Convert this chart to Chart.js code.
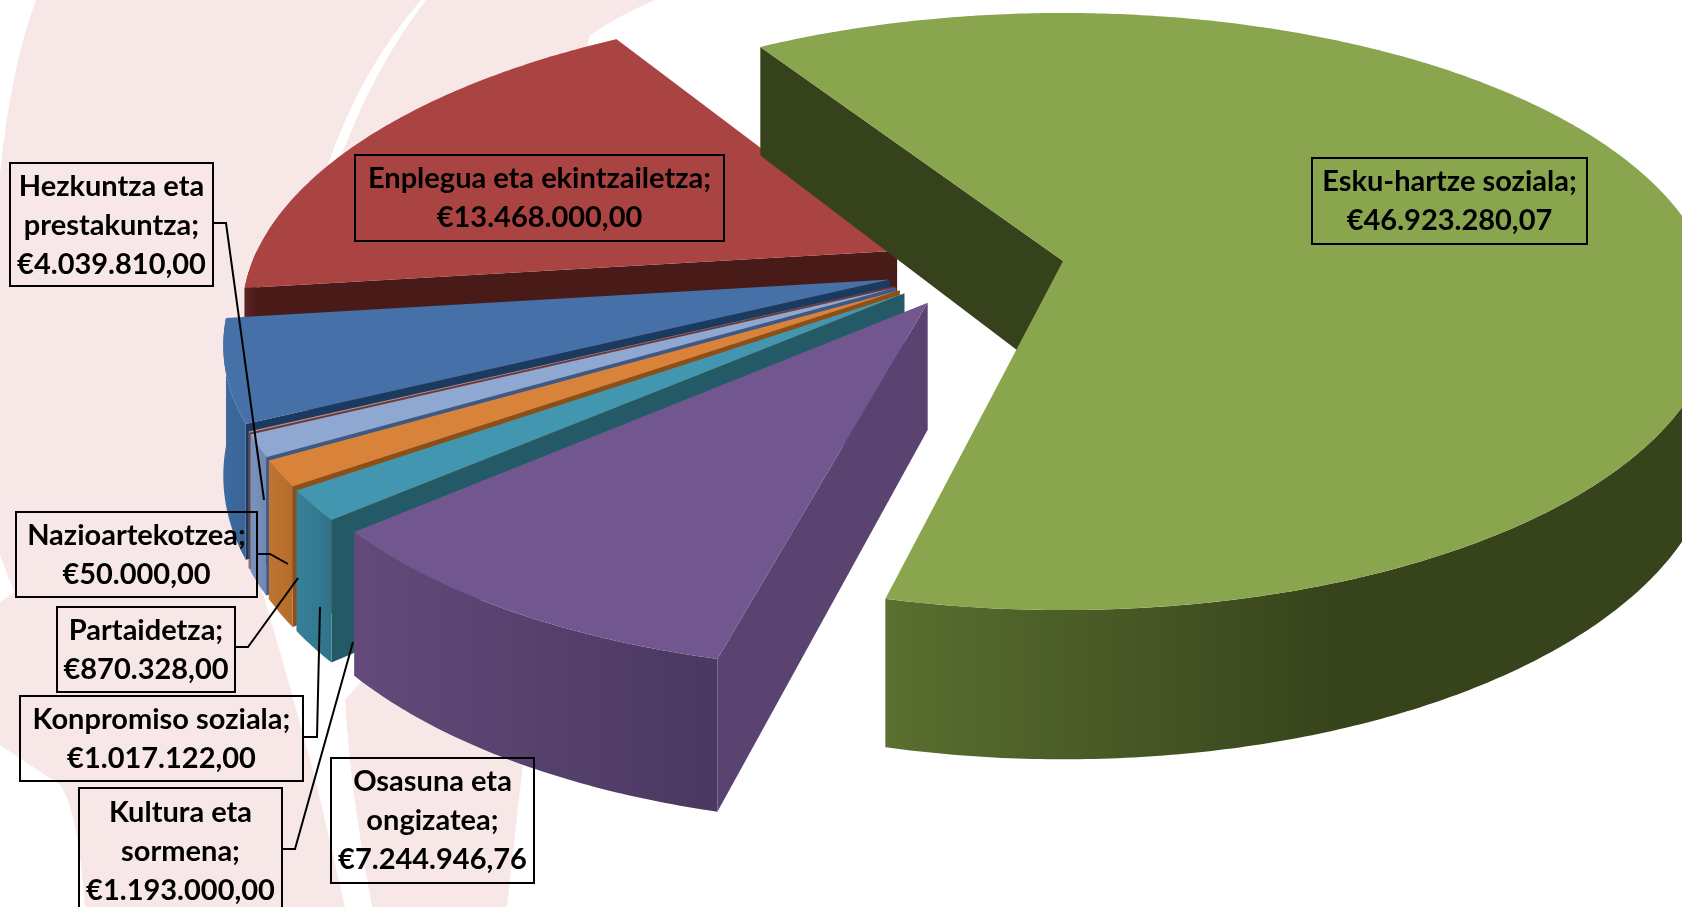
<!DOCTYPE html>
<html>
<head>
<meta charset="utf-8">
<style>
    html, body { margin: 0; padding: 0; background: #fff; overflow: hidden; }
    canvas { display: block; }
</style>
</head>
<body>
<canvas id="myChart" width="1682" height="907"></canvas>
<script src="https://cdn.jsdelivr.net/npm/chart.js@4.4.1/dist/chart.umd.min.js"></script>
<script>
    // data, in the order the slices go round the pie
    const categories = ['Hezkuntza eta prestakuntza', 'Enplegua eta ekintzailetza', 'Esku-hartze soziala',
        'Osasuna eta ongizatea', 'Kultura eta sormena', 'Konpromiso soziala', 'Partaidetza', 'Nazioartekotzea']
    const amounts = [4039810.00, 13468000.00, 46923280.07, 7244946.76, 1193000.00, 1017122.00, 870328.00, 50000.00]
    const labelLines = [['Hezkuntza eta', 'prestakuntza;'], ['Enplegua eta ekintzailetza;'], ['Esku-hartze soziala;'],
        ['Osasuna eta', 'ongizatea;'], ['Kultura eta', 'sormena;'], ['Konpromiso soziala;'], ['Partaidetza;'], ['Nazioartekotzea;']]

    // colours per slice
    const topColors = ['#4570a8', '#a94442', '#89a54e', '#72568f', '#4296af', '#d9823a', '#8fa8d2', '#c08a88']
    const sideColors = ['#1a3a60', '#481b19', '#36421b', '#5a4271', '#245a65', '#8f4f14', '#3b5a87', '#6b3a3a']
    const wallFrom = ['#3d6aa0', '#5c2523', '#5a6f30', '#634a7a', '#37809a', '#c07431', '#7a93bd', '#8a5a5a']
    const wallTo = ['#3a6497', '#4a1c1a', '#36431b', '#4a3860', '#307488', '#b56c2c', '#7088b2', '#8a5a5a']
    const wallStop = [1, 1, 0.55, 1, 1, 1, 1, 1]

    // label boxes: x, y, w, h and the leader line going out of them
    const boxes = [[10, 163, 203, 123], [355, 155, 369, 86], [1312, 158, 275, 86], [331, 758, 203, 125],
        [79, 788, 203, 127], [20, 696, 283, 85], [57, 607, 178, 85], [16, 512, 241, 85]]
    const leaders = [[[213, 223], [226, 223], [264, 500]], null, null, null,
        [[282, 849], [295, 849], [353, 642]], [[303, 737], [317, 737], [320, 607]],
        [[235, 647], [248, 647], [298, 578]], [[257, 554], [270, 554], [288, 564]]]

    // perspective of the pie floor, fitted on the reference
    const view = { x: 1063, y: 261, sx: 644, sy: 290, p: 0.169, depth: 124 }
    const centre = { u: -0.135, v: 0.023 }
    const explode = 0.137

    function project(u, v, z) {
        const w = 1 - view.p * v
        return [view.x + view.sx * u / w, view.y + view.sy * v / w + z * view.depth / w]
    }

    function formatEuro(n) {
        const parts = n.toFixed(2).split('.')
        return '€' + parts[0].replace(/\B(?=(\d{3})+$)/g, '.') + ',' + parts[1]
    }

    function poly(ctx, pts, fill) {
        ctx.beginPath()
        pts.forEach((p, i) => i ? ctx.lineTo(p[0], p[1]) : ctx.moveTo(p[0], p[1]))
        ctx.closePath()
        ctx.fillStyle = fill
        ctx.fill()
    }

    // the pale logo behind the chart
    function drawBackground(ctx) {
        const pink = '#f7e8e7'
        ctx.fillStyle = '#fff'
        ctx.fillRect(0, 0, 1682, 907)
        ctx.fillStyle = pink
        ctx.beginPath()
        ctx.moveTo(36, 0)
        ctx.lineTo(655, 0)
        ctx.quadraticCurveTo(620, 15, 590, 35)
        ctx.lineTo(500, 400)
        ctx.lineTo(400, 640)
        ctx.lineTo(300, 640)
        ctx.lineTo(345, 907)
        ctx.lineTo(85, 907)
        ctx.quadraticCurveTo(78, 810, 60, 785)
        ctx.quadraticCurveTo(30, 765, 0, 745)
        ctx.lineTo(0, 175)
        ctx.quadraticCurveTo(10, 70, 36, 0)
        ctx.fill()
        // tail under the purple slice
        ctx.beginPath()
        ctx.moveTo(380, 660)
        ctx.lineTo(525, 745)
        ctx.lineTo(507, 907)
        ctx.lineTo(372, 907)
        ctx.quadraticCurveTo(350, 790, 345, 700)
        ctx.fill()
        // white streaks
        ctx.fillStyle = '#fff'
        ctx.beginPath()
        ctx.moveTo(421, 0)
        ctx.quadraticCurveTo(360, 70, 326, 170)
        ctx.lineTo(336, 170)
        ctx.quadraticCurveTo(372, 70, 426, 0)
        ctx.fill()
        ctx.beginPath()
        ctx.moveTo(262, 590)
        ctx.quadraticCurveTo(300, 720, 318, 790)
        ctx.lineTo(345, 907)
        ctx.lineTo(372, 907)
        ctx.quadraticCurveTo(350, 790, 345, 700)
        ctx.lineTo(330, 600)
        ctx.fill()
        ctx.beginPath()
        ctx.moveTo(0, 555)
        ctx.lineTo(14, 592)
        ctx.lineTo(0, 602)
        ctx.fill()
    }

    // builds the solid slices from the angles the library worked out
    function drawSlice(ctx, arc, i) {
        const mid = (arc.startAngle + arc.endAngle) / 2
        const ox = centre.u + explode * Math.cos(mid)
        const oy = centre.v + explode * Math.sin(mid)
        const rim = (t, z) => project(ox + Math.cos(t), oy + Math.sin(t), z)
        const apex = z => project(ox, oy, z)

        // radial face at the start of the slice
        poly(ctx, [apex(0), rim(arc.startAngle, 0), rim(arc.startAngle, 1), apex(1)], sideColors[i])

        // outer wall, only on the half turned to the viewer
        const turn = Math.PI * 2
        let a = arc.startAngle, b = arc.endAngle
        const from = Math.max(a, Math.floor(a / turn) * turn)
        const wallSpans = [[from, Math.min(b, Math.floor(a / turn) * turn + Math.PI)],
            [Math.max(a, Math.ceil(a / turn) * turn), Math.min(b, Math.ceil(a / turn) * turn + Math.PI)]]
        wallSpans.forEach(span => {
            if (span[1] <= span[0]) return
            const front = [], back = []
            for (let t = span[0]; t < span[1]; t += 0.01) {
                front.push(rim(t, 0))
                back.unshift(rim(t, 1))
            }
            front.push(rim(span[1], 0))
            back.unshift(rim(span[1], 1))
            const xs = front.map(p => p[0])
            const g = ctx.createLinearGradient(Math.min(...xs), 0, Math.max(...xs), 0)
            g.addColorStop(0, wallFrom[i])
            g.addColorStop(wallStop[i], wallTo[i])
            g.addColorStop(1, wallTo[i])
            poly(ctx, front.concat(back), g)
        })

        // top face
        const top = [apex(0)]
        for (let t = a; t < b; t += 0.01) top.push(rim(t, 0))
        top.push(rim(b, 0))
        poly(ctx, top, topColors[i])
    }

    function drawLabels(ctx) {
        ctx.textAlign = 'center'
        ctx.textBaseline = 'middle'
        ctx.font = '700 29px Lato'
        const lineGap = 38.8
        categories.forEach((name, i) => {
            const b = boxes[i]
            const lines = labelLines[i].concat([formatEuro(amounts[i])])
            ctx.strokeStyle = '#000'
            ctx.lineWidth = 2
            ctx.strokeRect(b[0], b[1], b[2], b[3])
            ctx.fillStyle = '#000'
            const top = i === 4 ? b[1] + 25 : b[1] + 24
            lines.forEach((line, k) => ctx.fillText(line, b[0] + b[2] / 2, top + k * lineGap))
            if (leaders[i]) {
                ctx.beginPath()
                leaders[i].forEach((p, k) => k ? ctx.lineTo(p[0], p[1]) : ctx.moveTo(p[0], p[1]))
                ctx.stroke()
            }
        })
    }

    const solidPie = {
        id: 'solidPie',
        beforeDraw(chart) {
            drawBackground(chart.ctx)
        },
        // the library's flat arcs are replaced by the tilted solid ones
        beforeDatasetDraw(chart, args) {
            const ctx = chart.ctx
            const arcs = chart.getDatasetMeta(args.index).data
            ctx.save()
            // back to front: red, blue, then round to the purple one, green last
            const order = [1, 0, 7, 6, 5, 4, 3, 2]
            order.forEach(i => drawSlice(ctx, arcs[i], i))
            ctx.restore()
            return false
        },
        afterDraw(chart) {
            drawLabels(chart.ctx)
        }
    }

    const ctx = document.getElementById('myChart')
    const myChart = new Chart(ctx, {
        type: 'pie',
        data: {
            labels: categories,
            datasets: [{ data: amounts, backgroundColor: topColors, borderWidth: 0 }]
        },
        options: {
            responsive: false,
            animation: false,
            devicePixelRatio: 1,
            rotation: -116.74,
            plugins: { legend: { display: false }, tooltip: { enabled: false } }
        },
        plugins: [solidPie]
    })
</script>
</body>
</html>
